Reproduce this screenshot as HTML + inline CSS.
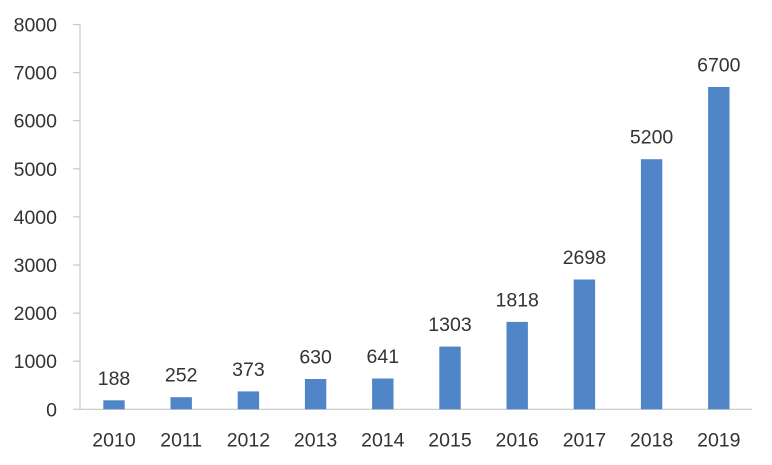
<!DOCTYPE html>
<html><head><meta charset="utf-8"><style>
html,body{margin:0;padding:0;background:#fff;}
svg{display:block;}
text{font-family:"Liberation Sans",sans-serif;fill:#333;}
</style></head><body>
<svg width="772" height="465" viewBox="0 0 772 465" xmlns="http://www.w3.org/2000/svg">
<g stroke="#c8c8c8" stroke-width="1.2" fill="none">
<line x1="80" y1="24.5" x2="80" y2="409.3"/>
<line x1="73" y1="409.3" x2="752" y2="409.3"/>
<line x1="73" y1="24.5" x2="80" y2="24.5"/>
<line x1="73" y1="72.6" x2="80" y2="72.6"/>
<line x1="73" y1="120.7" x2="80" y2="120.7"/>
<line x1="73" y1="168.8" x2="80" y2="168.8"/>
<line x1="73" y1="216.9" x2="80" y2="216.9"/>
<line x1="73" y1="265" x2="80" y2="265"/>
<line x1="73" y1="313.1" x2="80" y2="313.1"/>
<line x1="73" y1="361.2" x2="80" y2="361.2"/>
</g>
<g font-size="19.5" text-anchor="end">
<text x="57" y="31.5">8000</text>
<text x="57" y="79.6">7000</text>
<text x="57" y="127.7">6000</text>
<text x="57" y="175.8">5000</text>
<text x="57" y="223.9">4000</text>
<text x="57" y="272">3000</text>
<text x="57" y="320.1">2000</text>
<text x="57" y="368.2">1000</text>
<text x="57" y="416.3">0</text>
</g>
<g fill="#5086c8">
<rect x="103.3" y="400.3" width="21.4" height="9"/>
<rect x="170.5" y="397.2" width="21.4" height="12.1"/>
<rect x="237.7" y="391.4" width="21.4" height="17.9"/>
<rect x="304.9" y="379.0" width="21.4" height="30.3"/>
<rect x="372.1" y="378.5" width="21.4" height="30.8"/>
<rect x="439.3" y="346.6" width="21.4" height="62.7"/>
<rect x="506.5" y="321.9" width="21.4" height="87.4"/>
<rect x="573.7" y="279.5" width="21.4" height="129.8"/>
<rect x="640.9" y="159.2" width="21.4" height="250.1"/>
<rect x="708.1" y="87.0" width="21.4" height="322.3"/>
</g>
<g font-size="19.5" text-anchor="middle">
<text x="114" y="384.8">188</text>
<text x="181.2" y="381.7">252</text>
<text x="248.4" y="375.9">373</text>
<text x="315.6" y="363.5">630</text>
<text x="382.8" y="363">641</text>
<text x="450" y="331.1">1303</text>
<text x="517.2" y="306.4">1818</text>
<text x="584.4" y="264">2698</text>
<text x="651.6" y="143.7">5200</text>
<text x="718.8" y="71.5">6700</text>
</g>
<g font-size="19.5" text-anchor="middle">
<text x="114" y="446.5">2010</text>
<text x="181.2" y="446.5">2011</text>
<text x="248.4" y="446.5">2012</text>
<text x="315.6" y="446.5">2013</text>
<text x="382.8" y="446.5">2014</text>
<text x="450" y="446.5">2015</text>
<text x="517.2" y="446.5">2016</text>
<text x="584.4" y="446.5">2017</text>
<text x="651.6" y="446.5">2018</text>
<text x="718.8" y="446.5">2019</text>
</g>
</svg>
</body></html>
